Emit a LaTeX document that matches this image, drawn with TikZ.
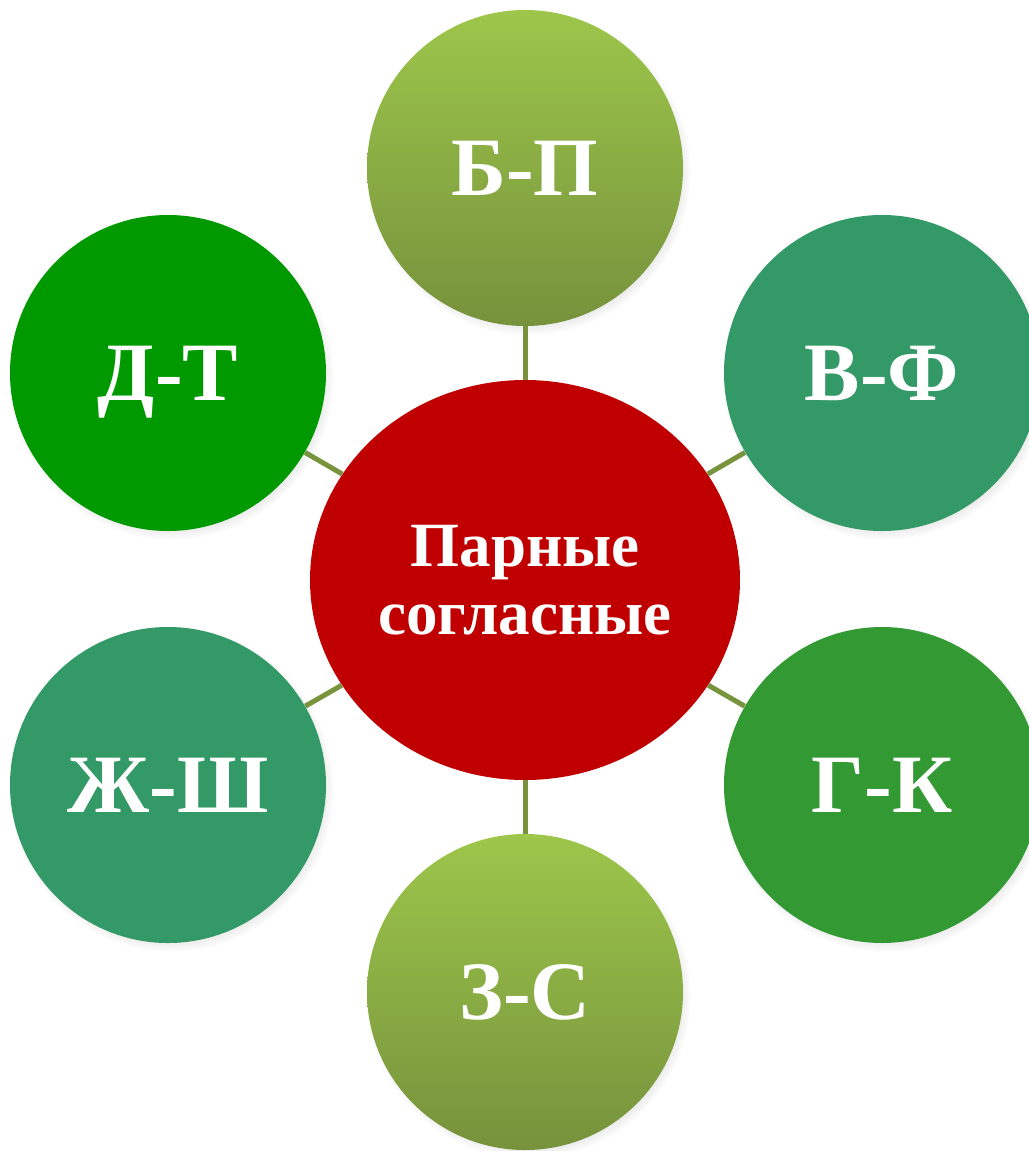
\documentclass[tikz,border=0pt]{standalone}
\usepackage{fontspec}
\setmainfont{Liberation Serif}
\usepackage{tikz}
\usetikzlibrary{shapes.geometric, shadows}
\definecolor{hubred}{RGB}{192,0,0}
\definecolor{dgreen}{RGB}{0,153,0}
\definecolor{teal}{RGB}{51,153,102}
\definecolor{mgreen}{RGB}{51,153,51}
\definecolor{limetop}{RGB}{157,198,75}
\definecolor{limebot}{RGB}{118,146,60}
\definecolor{olive}{RGB}{119,147,60}

\begin{document}
\begin{tikzpicture}[
        x=0.5pt, y=-0.5pt,
        pair/.style={circle, minimum size=158pt, inner sep=0pt, text=white,
            font=\fontsize{41.5}{50}\selectfont\bfseries, text height=27.5pt, text depth=0pt,
            circular drop shadow={shadow scale=1.03, shadow xshift=1.5pt, shadow yshift=-2pt, opacity=0.35}},
        lime/.style={pair, top color=limetop, bottom color=limebot},
        hub/.style={ellipse, minimum width=215pt, minimum height=200pt, inner sep=0pt,
            fill=hubred, text=white, align=center,
            font=\fontsize{31.5}{34}\selectfont\bfseries},
        link/.style={olive, line width=2.5pt}
        ]

        \useasboundingbox (0,0) rectangle (1028,1151);

        \node[lime] (b_p) at (525,168) {Б-П};
        \node[pair, fill=dgreen] (d_t) at (168,373) {Д-Т};
        \node[pair, fill=teal] (v_f) at (882,373) {В-Ф};
        \node[pair, fill=teal] (zh_sh) at (168,785) {Ж-Ш};
        \node[pair, fill=mgreen] (g_k) at (882,785) {Г-К};
        \node[lime] (z_s) at (525,992) {З-С};

        \node[hub] (centre) at (525,580) {Парные\\согласные};

        \draw[link] (centre) -- (b_p);
        \draw[link] (centre) -- (d_t);
        \draw[link] (centre) -- (v_f);
        \draw[link] (centre) -- (zh_sh);
        \draw[link] (centre) -- (g_k);
        \draw[link] (centre) -- (z_s);

    \end{tikzpicture}
\end{document}
